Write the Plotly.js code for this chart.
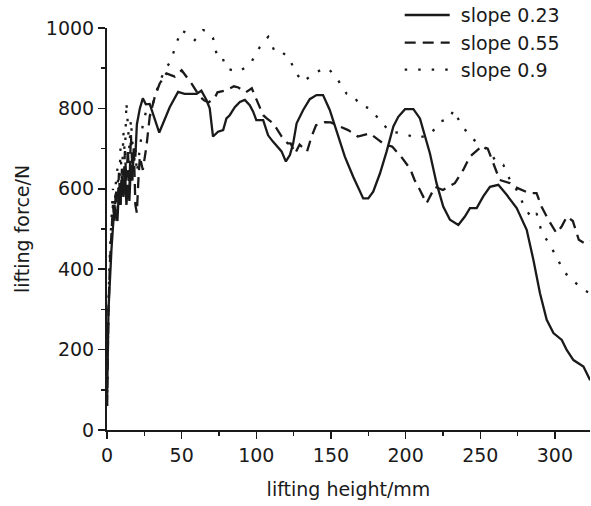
<!DOCTYPE html>
<html>
<head>
<meta charset="utf-8">
<script src="https://cdn.plot.ly/plotly-3.0.1.min.js"></script>
<style>html,body{margin:0;padding:0;background:#fff;}#chart{width:591px;height:506px;}</style>
</head>
<body>
<div id="chart"></div>
<script>
// slope 0.23 (solid)
const xSlope023 = [
  0, 1, 3, 4, 5, 6, 7, 8, 9, 10,
  11, 12, 13, 14, 15, 16, 17, 18, 19, 20,
  22, 24, 26, 28.6, 32, 35, 42, 47.6, 52, 55.4,
  60, 63.2, 66.6, 68.8, 71, 74.4, 77.8, 80, 82.2, 85.6,
  89, 92.3, 95.6, 97.9, 100, 104.6, 107.9, 111, 114.6, 116.9,
  119.8, 122.5, 124.7, 127, 131.4, 135.8, 140.3, 144.7, 149.2, 153.7,
  159.3, 164.9, 171.6, 175, 178.3, 182.8, 187.3, 191.8, 195.1, 199.6,
  205.2, 209.6, 216.3, 220.7, 225.2, 229.7, 235.3, 239.7, 243.1, 247.6,
  252, 256.5, 262.1, 267.7, 274.4, 281.1, 285.6, 290, 294.5, 299,
  304.6, 307.9, 312.4, 319.1, 323.6
];
const ySlope023 = [
  60, 300, 450, 510, 560, 530, 520, 600, 560, 630,
  580, 650, 560, 610, 570, 660, 620, 700, 680, 760,
  800, 825, 810, 811, 776, 740, 803, 841, 836, 836,
  836, 844, 821, 800, 730, 742, 746, 775, 783, 803,
  816, 821, 808, 792, 771, 771, 733, 718, 701, 693,
  668, 684, 713, 763, 796, 823, 833, 833, 796, 746,
  680, 630, 576, 576, 593, 638, 693, 755, 779, 798,
  798, 775, 688, 614, 556, 523, 510, 531, 552, 552,
  581, 605, 610, 585, 552, 498, 423, 340, 274, 241,
  224, 199, 174, 158, 124
];

// slope 0.55 (dashed)
const xSlope055 = [
  0, 1, 2, 3, 4, 5, 6, 7, 8, 9,
  10, 11, 12, 13, 14, 15, 16, 17, 18, 19,
  20, 21, 22, 24, 26.4, 28.6, 32, 35.3, 39.8, 45.4,
  50, 53, 57, 62, 65, 68, 72, 74, 80, 85,
  88, 93, 97, 100, 104.6, 107, 111.3, 117, 121, 123,
  126, 129, 134, 137, 140, 146, 150, 154, 161.5, 168,
  176, 182, 186, 191, 197, 203, 206, 209.6, 214, 219.7,
  225, 233, 238.6, 243, 250.8, 255, 259.9, 263, 270, 273,
  283, 287.7, 291, 295.6, 301, 304.5, 308, 312, 316, 320,
  323.6
];
const ySlope055 = [
  60, 300, 420, 500, 560, 520, 600, 540, 640, 560,
  650, 600, 692, 620, 700, 600, 734, 650, 700, 560,
  540, 620, 680, 647, 705, 779, 829, 862, 887, 879,
  895, 880, 860, 830, 820, 815, 825, 840, 845, 855,
  852, 840, 850, 823, 783, 775, 763, 730, 713, 713,
  688, 710, 693, 730, 758, 766, 765, 758, 746, 730,
  738, 721, 710, 705, 680, 650, 622, 597, 564, 605,
  597, 614, 647, 680, 705, 700, 655, 622, 614, 605,
  589, 589, 556, 523, 490, 506, 531, 520, 473, 464,
  470
];

// slope 0.9 (dotted)
const xSlope09 = [
  0, 1, 2, 3, 4, 5, 6, 7, 8, 9,
  10, 11, 12, 13, 14, 15, 16, 17, 18, 19,
  20, 22, 24, 26.4, 28.6, 32, 35.3, 38.7, 43, 46,
  49.8, 54, 58.8, 64.4, 68, 71, 73.3, 76.6, 79.5, 84,
  87.8, 92, 96.8, 102.4, 108, 112.4, 116.9, 122.4, 125.8, 131.4,
  138.5, 143, 148.2, 154.8, 160.4, 164.9, 169.3, 176, 182.8, 189.4,
  198.4, 207.3, 216.3, 223, 229.7, 232, 237.5, 244.2, 250, 256.5,
  261, 265.4, 269.9, 274.4, 280, 284.5, 287.7, 291, 294.5, 301,
  305.7, 311.3, 319.1, 323.6
];
const ySlope09 = [
  60, 320, 450, 520, 600, 540, 620, 650, 560, 700,
  620, 740, 680, 815, 760, 700, 772, 720, 660, 700,
  640, 700, 760, 796, 779, 830, 866, 895, 920, 957,
  995, 985, 970, 995, 990, 975, 937, 937, 900, 895,
  891, 900, 916, 953, 978, 941, 941, 924, 891, 866,
  887, 895, 900, 870, 837, 833, 808, 800, 771, 742,
  738, 726, 734, 767, 775, 796, 758, 726, 710, 693,
  664, 660, 622, 597, 552, 527, 539, 494, 473, 432,
  395, 374, 349, 340
];

const seriesNames = ['slope 0.23', 'slope 0.55', 'slope 0.9'];
const xTickVals = [0, 50, 100, 150, 200, 250, 300];
const yTickVals = [0, 200, 400, 600, 800, 1000];

const FONT = 'DejaVu Sans, Liberation Sans, sans-serif';
const FS = 19;
const INK = '#1a1a1a';
const PAD = '\u00a0';

const traces = [
  {x: xSlope023, y: ySlope023, name: PAD + seriesNames[0], mode: 'lines', legend: 'legend',
   line: {color: INK, width: 2.3, dash: 'solid'}},
  {x: xSlope055, y: ySlope055, name: PAD + seriesNames[1], mode: 'lines', legend: 'legend2',
   line: {color: INK, width: 2.3, dash: '11px,7px'}},
  {x: xSlope09, y: ySlope09, name: PAD + seriesNames[2], mode: 'lines', legend: 'legend3',
   line: {color: INK, width: 2.3, dash: '2.5px,11px'}}
];

function leg(y) {
  return {x: 0.606, y: y, xanchor: 'left', yanchor: 'middle', bgcolor: 'rgba(0,0,0,0)',
          font: {family: FONT, size: FS, color: INK}, itemwidth: 45, borderwidth: 0};
}

const layout = {
  width: 591, height: 506,
  margin: {l: 107, r: 1, t: 28, b: 76, autoexpand: false},
  paper_bgcolor: '#fff', plot_bgcolor: '#fff',
  font: {family: FONT, size: FS, color: INK},
  showlegend: true,
  legend: leg(1.032),
  legend2: leg(0.963),
  legend3: leg(0.896),
  xaxis: {
    range: [0, 323.5], tickvals: xTickVals, ticks: 'outside', ticklen: 7, tickwidth: 1.5,
    tickcolor: INK, showline: true, linecolor: INK, linewidth: 2, showgrid: false, zeroline: false,
    minor: {ticks: 'outside', ticklen: 4, tickwidth: 1.5, tickcolor: INK, dtick: 25, tick0: 0, showgrid: false},
    tickfont: {family: FONT, size: FS, color: INK},
    automargin: false,
    title: {text: 'lifting height/mm', font: {family: FONT, size: FS, color: INK}, standoff: 18}
  },
  yaxis: {
    range: [0, 1000], tickvals: yTickVals, ticks: 'outside', ticklen: 7, tickwidth: 1.5,
    tickcolor: INK, showline: true, linecolor: INK, linewidth: 2, showgrid: false, zeroline: false,
    minor: {ticks: 'outside', ticklen: 4, tickwidth: 1.5, tickcolor: INK, dtick: 100, tick0: 0, showgrid: false},
    tickfont: {family: FONT, size: FS, color: INK},
    automargin: false,
    title: {text: 'lifting force/N', font: {family: FONT, size: FS, color: INK}, standoff: 11}
  }
};

Plotly.newPlot('chart', traces, layout, {displayModeBar: false, staticPlot: true});
</script>
</body>
</html>
